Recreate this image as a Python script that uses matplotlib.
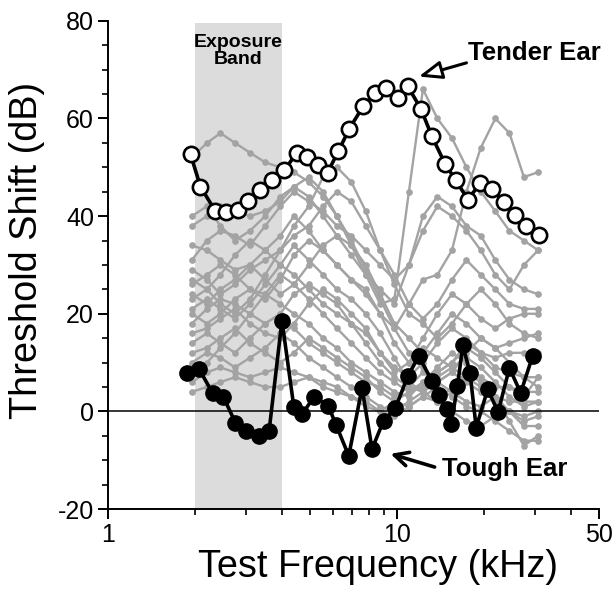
import numpy as np
import matplotlib
matplotlib.use('Agg')
import matplotlib.pyplot as plt
from matplotlib.ticker import FixedLocator, NullFormatter, FixedFormatter

plt.rcParams['font.family'] = ['Liberation Sans', 'DejaVu Sans']
plt.rcParams['axes.unicode_minus'] = False

# ─── Data ─────────────────────────────────────────────────────────────────────

tender_f = [1.93, 2.09, 2.35, 2.57, 2.82, 3.06, 3.36, 3.70, 4.07, 4.50, 4.89,
            5.34, 5.75, 6.27, 6.84, 7.64, 8.41, 9.14, 10.1, 10.9, 12.1, 13.2,
            14.7, 16.0, 17.6, 19.4, 21.4, 23.4, 25.6, 27.9, 31.1]
tender_db = [52.7, 46.0, 41.1, 40.9, 41.2, 43.2, 45.3, 47.5, 49.4, 52.9, 52.1,
             50.5, 48.9, 53.3, 57.9, 62.5, 65.3, 66.3, 64.1, 66.6, 62.0, 56.4,
             50.6, 47.3, 43.4, 46.7, 45.6, 42.9, 40.2, 37.9, 36.1]

tough_f = [1.87, 2.07, 2.30, 2.51, 2.76, 3.00, 3.32, 3.61, 4.00, 4.40, 4.70,
           5.16, 5.78, 6.16, 6.81, 7.57, 8.20, 8.99, 9.86, 10.9, 11.9, 13.2,
           14.0, 14.9, 15.4, 16.2, 16.9, 17.9, 18.8, 20.6, 22.4, 24.5, 26.8,
           29.5]
tough_db = [7.8, 8.6, 3.8, 2.9, -2.3, -4.0, -5.0, -4.0, 18.6, 0.8, -0.6,
            3.0, 1.2, -2.8, -9.1, 4.8, -7.7, -1.9, 0.6, 7.2, 11.3, 6.3,
            3.3, 0.4, -2.6, 5.2, 13.5, 7.9, -3.3, 4.5, -0.1, 8.9, 3.8,
            11.4]

# other ears (gray), sampled on a shared frequency list
gray_f = [1.95, 2.2, 2.45, 2.75, 3.1, 3.5, 3.95, 4.4, 4.95, 5.55, 6.2, 6.95,
          7.8, 8.75, 9.8, 11.0, 12.3, 13.8, 15.5, 17.4, 19.5, 21.9, 24.5,
          27.5, 30.8]
gray_db = [
    [52, 55, 57, 55, 53, 51, 50, 49, 47, 44, 40, 35, 29, 23, 17, 12, 9, 6, 8, 12, 15, 13, 10, 7, 5],
    [38, 40, 42, 41, 40, 41, 43, 46, 48, 45, 40, 34, 28, 22, 23, 45, 66, 60, 56, 50, 45, 41, 37, 35, 33],
    [34, 33, 31, 29, 30, 33, 36, 40, 37, 33, 30, 27, 24, 20, 17, 22, 27, 28, 33, 45, 54, 60, 57, 48, 49],
    [31, 35, 37, 36, 34, 38, 42, 45, 43, 41, 38, 36, 33, 30, 27, 30, 40, 44, 42, 38, 36, 31, 27, 25, 24],
    [29, 27, 24, 26, 29, 31, 33, 36, 38, 42, 45, 43, 38, 33, 28, 22, 19, 22, 27, 31, 28, 25, 22, 21, 21],
    [26, 28, 30, 28, 25, 23, 27, 32, 35, 33, 30, 27, 25, 20, 14, 10, 15, 20, 24, 22, 19, 17, 19, 20, 20],
    [24, 22, 25, 27, 30, 27, 24, 26, 30, 34, 36, 34, 30, 24, 18, 15, 12, 16, 20, 18, 15, 13, 14, 15, 16],
    [23, 25, 28, 32, 35, 33, 30, 28, 25, 22, 20, 18, 16, 12, 9, 7, 10, 14, 17, 15, 12, 11, 12, 12, 12],
    [21, 23, 21, 19, 22, 26, 30, 34, 31, 28, 25, 23, 20, 16, 11, 6, 4, 8, 10, 14, 12, 9, 8, 7, 7],
    [20, 18, 20, 23, 25, 24, 22, 20, 18, 15, 13, 10, 8, 6, 4, 3, 6, 9, 12, 10, 7, 5, 5, 4, 4],
    [18, 21, 23, 22, 20, 18, 20, 24, 26, 24, 22, 18, 14, 10, 7, 5, 4, 6, 8, 6, 4, 3, 2, 2, 2],
    [16, 17, 19, 21, 18, 16, 15, 18, 22, 25, 23, 20, 17, 12, 8, 10, 13, 11, 9, 7, 5, 2, 0, -1, 0],
    [14, 16, 14, 12, 15, 18, 20, 17, 14, 12, 10, 8, 6, 5, 3, 5, 8, 6, 4, 2, 1, 3, 0, -3, -3],
    [12, 13, 15, 17, 14, 12, 10, 12, 15, 13, 11, 9, 7, 4, 2, 1, 3, 5, 3, 1, 0, -2, -4, -6, -6],
    [10, 12, 11, 9, 11, 13, 16, 14, 11, 9, 7, 5, 3, 1, 0, 2, 4, 2, 5, 8, 6, 3, -2, -7, -5],
    [6, 8, 9, 8, 7, 8, 9, 8, 7, 6, 5, 3, 2, 0, 2, 4, 6, 8, 10, 13, 11, 8, 5, 3, 7],
    [4, 5, 6, 7, 6, 5, 5, 6, 7, 5, 4, 3, 1, 0, -1, 1, 3, 2, 0, -2, -3, -1, 0, -2, -1],
    [40, 42, 38, 35, 37, 40, 44, 46, 44, 40, 36, 32, 28, 25, 22, 30, 37, 42, 40, 37, 33, 28, 25, 30, 33],
    [27, 25, 22, 20, 23, 28, 33, 38, 42, 48, 50, 47, 41, 33, 26, 20, 18, 15, 18, 22, 25, 22, 18, 16, 15],
    [8, 10, 13, 16, 20, 24, 28, 26, 23, 20, 17, 14, 11, 8, 6, 4, 5, 7, 9, 11, 9, 6, 3, 1, 2],
]

band_lo, band_hi = 2, 4
x_ticks = [1, 10, 50]
x_minor = [2, 3, 4, 5, 6, 7, 8, 9, 20, 30, 40]

# ─── Figure ───────────────────────────────────────────────────────────────────

fig = plt.figure(figsize=(6.16, 5.91), dpi=100)
ax = fig.add_axes([0.1753, 0.1387, 0.797, 0.826])

ax.fill_between([band_lo, band_hi], -20, 79.5, color='#dcdcdc', lw=0, zorder=0)

for g in gray_db:
    ax.plot(gray_f, g, color='#a3a3a3', lw=1.7, marker='o', ms=3.8,
            mec='#a3a3a3', mfc='#a3a3a3', zorder=2)

ax.axhline(0, color='black', lw=1.1, zorder=3)

ax.plot(tough_f, tough_db, color='black', lw=2.6, marker='o', ms=11,
        mfc='black', mec='black', zorder=4)
ax.plot(tender_f, tender_db, color='black', lw=2.6, marker='o', ms=11,
        mfc='white', mec='black', mew=1.9, zorder=5)

# annotations
ax.text(2.83, 73.8, 'Exposure\nBand', ha='center', va='center', fontsize=14,
        fontweight='bold', linespacing=0.95)

ax.annotate('', xy=(11.9, 68.6), xytext=(17.4, 71.4),
            arrowprops=dict(arrowstyle='-|>,head_length=1.4,head_width=0.55',
                            fc='white', ec='black', lw=2.2, shrinkA=0, shrinkB=0))
ax.text(17.65, 73.4, 'Tender Ear', ha='left', va='center', fontsize=18.5,
        fontweight='bold')

ax.annotate('', xy=(9.5, -8.7), xytext=(13.5, -11.4),
            arrowprops=dict(arrowstyle='->,head_length=1.0,head_width=0.5',
                            color='black', lw=2.6, shrinkA=0, shrinkB=0))
ax.text(14.27, -11.8, 'Tough Ear', ha='left', va='center', fontsize=18.5,
        fontweight='bold')

# axes
ax.set_xscale('log')
ax.set_xlim(1, 50)
ax.set_ylim(-20, 80)
ax.xaxis.set_major_locator(FixedLocator(x_ticks))
ax.xaxis.set_major_formatter(FixedFormatter([str(v) for v in x_ticks]))
ax.xaxis.set_minor_locator(FixedLocator(x_minor))
ax.xaxis.set_minor_formatter(NullFormatter())
ax.set_yticks([-20, 0, 20, 40, 60, 80])
ax.yaxis.set_minor_locator(FixedLocator(np.arange(-20, 81, 5)))

for s in ['top', 'right']:
    ax.spines[s].set_visible(False)
for s in ['left', 'bottom']:
    ax.spines[s].set_linewidth(1.4)

ax.tick_params(which='major', direction='out', length=7, width=1.4,
               labelsize=18, pad=3)
ax.tick_params(which='minor', direction='out', length=4, width=1.2)

ax.set_xlabel('Test Frequency (kHz)', fontsize=27.3)
ax.set_ylabel('Threshold Shift (dB)', fontsize=27.3)
ax.xaxis.set_label_coords(0.55, -0.082)
ax.yaxis.set_label_coords(-0.128, 0.53)

fig.savefig('out.png', dpi=100)
